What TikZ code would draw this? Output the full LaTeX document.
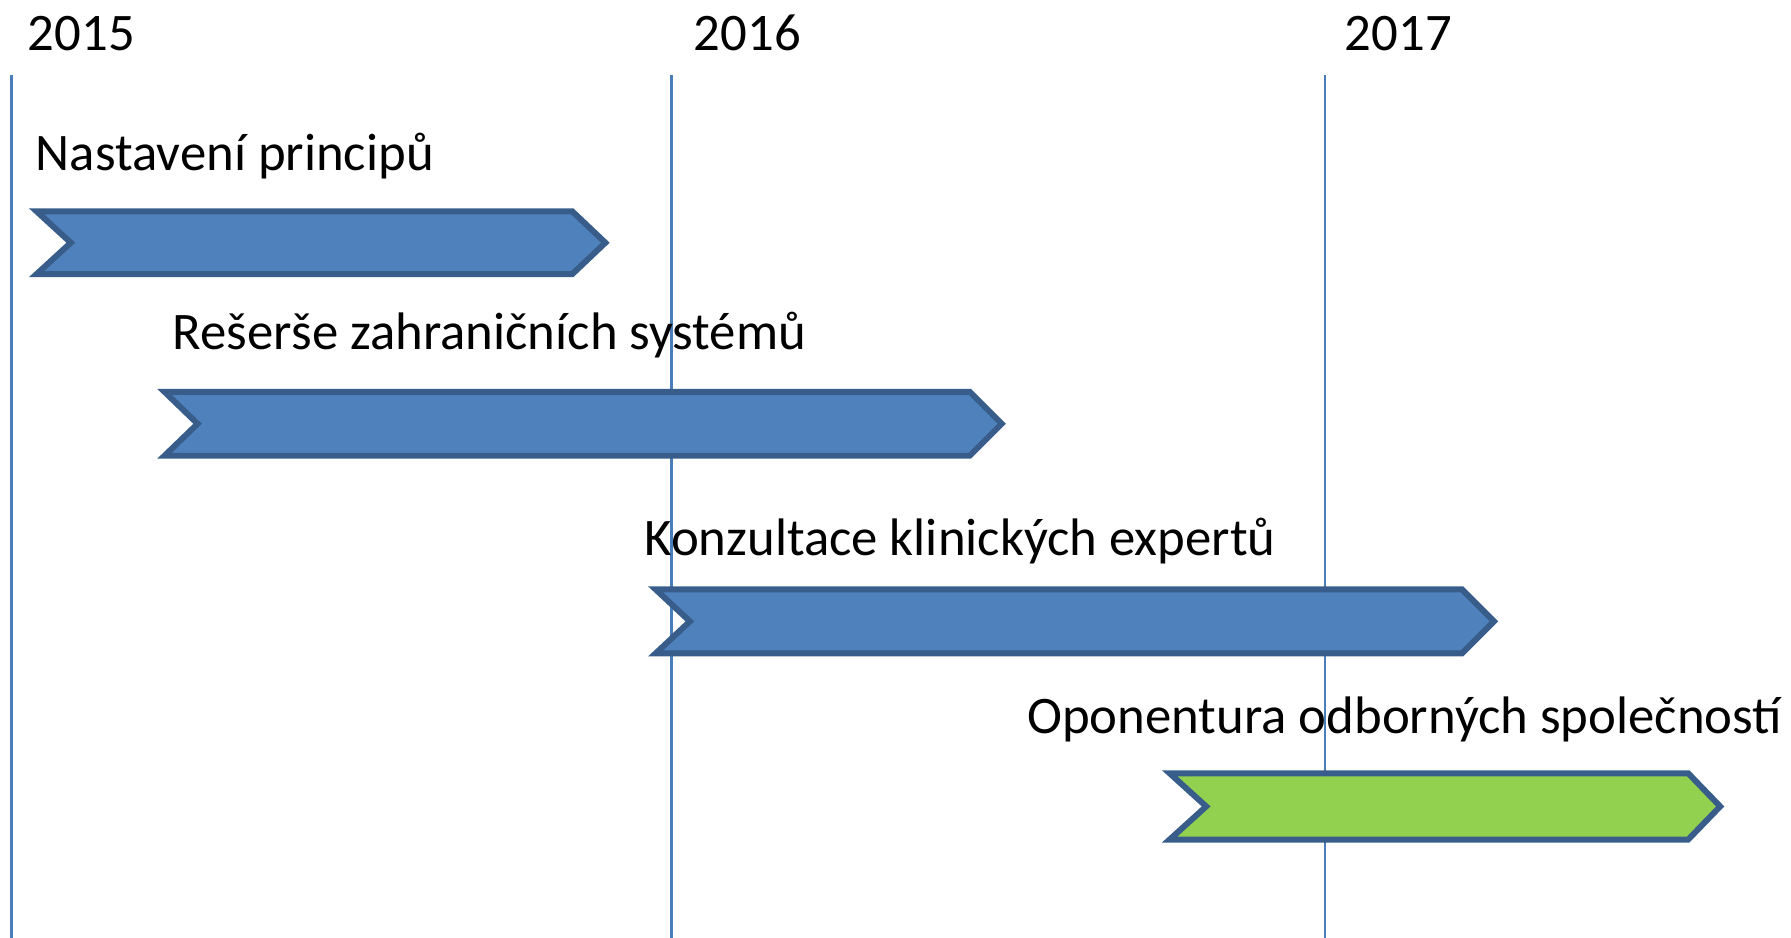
\documentclass[tikz,border=0pt]{standalone}
\usepackage{fontspec}
\setmainfont{Carlito}
\definecolor{barblue}{HTML}{4F81BD}
\definecolor{barline}{HTML}{385D8A}
\definecolor{bargreen}{HTML}{92D050}
\definecolor{yearline}{HTML}{4A7EBB}
\begin{document}
\begin{tikzpicture}[x=0.5pt,y=-0.5pt,
  yearrule/.style={draw=yearline,line width=1.2pt},
  chev/.style={draw=barline,line width=2.6pt,line join=miter,fill=barblue},
  chevgreen/.style={chev,fill=bargreen},
  lbl/.style={anchor=base west,inner sep=0pt,font=\fontsize{23.1pt}{27pt}\selectfont},
]
\useasboundingbox (0,0) rectangle (1568,821);
% year rules
\draw[yearrule] (10,66) -- (10,821);
\draw[yearrule] (588,66) -- (588,821);
\draw[yearrule] (1160,66) -- (1160,821);
% year labels
\node[lbl] (y15) at (24,44) {2015};
\node[lbl] (y16) at (607,44) {2016};
\node[lbl] (y17) at (1177,44) {2017};
% chevrons
\draw[chev] (32,185) -- (501,185) -- (530,212.5) -- (501,240) -- (32,240) -- (62,212.5) -- cycle;
\draw[chev] (144,343) -- (849,343) -- (877,371) -- (849,399) -- (144,399) -- (173,371) -- cycle;
\draw[chev] (574,516) -- (1280,516) -- (1308,544) -- (1280,572) -- (574,572) -- (604,544) -- cycle;
\draw[chevgreen] (1024,677) -- (1478,677) -- (1506,706) -- (1478,735) -- (1024,735) -- (1056,706) -- cycle;
% labels
\node[lbl] (t1) at (31,149) {Nastavení principů};
\node[lbl] (t2) at (151,306) {Rešerše zahraničních systémů};
\node[lbl] (t3) at (564,486) {Konzultace klinických expertů};
\node[lbl] (t4) at (899,642) {Oponentura odborných společností};
\end{tikzpicture}
\end{document}
